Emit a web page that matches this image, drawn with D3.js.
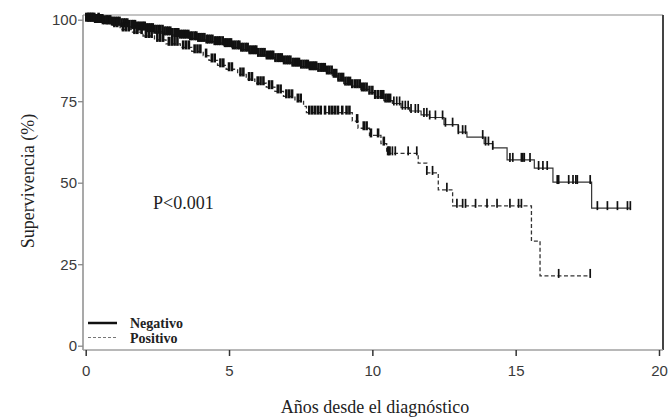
<!DOCTYPE html>
<html>
    <head>
        <title>Supervivencia</title>
        <script src="https://d3js.org/d3.v7.min.js"></script>
        <meta charset="UTF-8">
        <style>
            body { margin: 0; background: #fff; }
        </style>
    </head>
    <body>
        <script>
            var w = 668;
            var h = 419;

            // step points [year, survival %]
            var negSteps = [
                [0, 100], [0.3, 99.6], [0.6, 99.2], [0.9, 98.8], [1.2, 98.3], [1.5, 97.8],
                [1.8, 97.3], [2.1, 96.8], [2.4, 96.3], [2.7, 95.8], [3.0, 95.3], [3.3, 94.8],
                [3.6, 94.3], [3.9, 93.8], [4.2, 93.3], [4.5, 92.8], [4.8, 92.2], [5.1, 91.5],
                [5.4, 90.8], [5.7, 90.0], [6.0, 89.2], [6.3, 88.4], [6.6, 87.6], [6.9, 86.9],
                [7.2, 86.2], [7.5, 85.6], [7.8, 85.1], [8.1, 84.6], [8.4, 83.8], [8.6, 82.8],
                [8.8, 81.6], [9.0, 80.4], [9.3, 79.6], [9.6, 78.6], [9.9, 77.6], [10.1, 76.3],
                [10.4, 75.2], [10.7, 74.3], [11.0, 73.0], [11.3, 72.0], [11.7, 70.8], [12.0, 70.0],
                [12.5, 67.8], [13.0, 65.5], [13.3, 64.0], [13.9, 62.0], [14.2, 60.7], [14.7, 57.0],
                [15.65, 54.5], [16.3, 50.2], [17.65, 42.2]
            ];
            var negEnd = 19.0;
            var negCensor = [
                0.02, 0.08, 0.14, 0.2, 0.26, 0.33, 0.4, 0.46, 0.52, 0.58, 0.65, 0.72, 0.78, 0.85, 0.92, 0.98,
                1.05, 1.12, 1.18, 1.25, 1.32, 1.38, 1.45, 1.52, 1.6, 1.66, 1.72, 1.8, 1.86, 1.93, 2.0, 2.06,
                2.13, 2.2, 2.27, 2.34, 2.4, 2.47, 2.54, 2.6, 2.68, 2.75, 2.82, 2.88, 2.95, 3.02, 3.1, 3.16,
                3.23, 3.3, 3.37, 3.44, 3.5, 3.58, 3.65, 3.72, 3.8, 3.86, 3.93, 4.0, 4.07, 4.14, 4.22, 4.28,
                4.35, 4.42, 4.5, 4.57, 4.64, 4.7, 4.78, 4.86, 4.92, 5.0, 5.07, 5.14, 5.22, 5.3, 5.36, 5.43,
                5.5, 5.58, 5.65, 5.72, 5.8, 5.88, 5.95, 6.02, 6.1, 6.17, 6.24, 6.32, 6.4, 6.47, 6.54, 6.62,
                6.7, 6.77, 6.84, 6.92, 7.0, 7.07, 7.14, 7.22, 7.3, 7.37, 7.44, 7.52, 7.6, 7.68, 7.75, 7.82,
                7.9, 7.97, 8.04, 8.12, 8.2, 8.27, 8.34, 8.42, 8.5, 8.58, 8.66, 8.74, 8.82, 8.9, 8.98, 9.06,
                9.14, 9.22, 9.3, 9.4, 9.48, 9.56, 9.64, 9.72, 9.8, 9.9, 10.0, 10.1, 10.2, 10.3, 10.38, 10.46,
                10.54, 10.62, 10.75, 10.85, 10.95, 11.05, 11.15, 11.25, 11.35, 11.5, 11.6,
                11.8, 11.9, 12.0, 12.2, 12.45, 12.55, 12.8, 13.0, 13.15, 13.25, 13.85, 13.95, 14.05, 14.2,
                14.8, 14.9, 15.2, 15.25, 15.3, 15.5, 15.8, 15.95, 16.1, 16.45, 16.5, 16.85, 17.0, 17.1,
                17.15, 17.6, 17.85, 18.2, 18.55, 18.9, 19.0
            ];

            var posSteps = [
                [0, 100], [0.5, 99.2], [0.9, 98.3], [1.2, 97.0], [1.6, 96.2], [2.0, 95.0], [2.4, 93.8],
                [2.8, 92.6], [3.3, 91.5], [3.7, 90.3], [4.1, 89.0], [4.3, 87.5], [4.6, 86.0], [4.9, 84.8],
                [5.3, 83.2], [5.6, 81.8], [5.9, 80.5], [6.3, 79.3], [6.6, 78.0], [6.9, 76.5], [7.3, 75.2],
                [7.6, 73.4], [7.7, 71.5], [9.3, 68.9], [9.5, 66.7], [9.9, 64.5], [10.3, 62.0], [10.5, 59.0],
                [11.6, 56.0], [11.9, 53.0], [12.3, 47.8], [12.8, 42.9], [15.55, 32.1], [15.85, 21.4]
            ];
            var posEnd = 17.6;
            var posCensor = [
                0.1, 0.2, 0.3, 0.45, 0.6, 0.75, 0.85, 1.0, 1.1, 1.3, 1.4, 1.5, 1.7, 1.8, 1.95, 2.1, 2.2,
                2.3, 2.5, 2.6, 2.7, 2.9, 3.0, 3.1, 3.2, 3.4, 3.5, 3.6, 3.8, 3.9, 4.0, 4.2, 4.4, 4.5, 4.7,
                4.8, 5.0, 5.1, 5.4, 5.5, 5.7, 5.8, 6.0, 6.1, 6.2, 6.4, 6.5, 6.7, 6.8, 7.0, 7.1, 7.2, 7.4,
                7.5, 7.8, 7.9, 8.0, 8.1, 8.2, 8.35, 8.5, 8.6, 8.7, 8.8, 8.95, 9.1, 9.2,
                9.47, 9.7, 9.8, 9.95, 10.2, 10.4, 10.55, 10.6, 10.7, 10.8, 11.25, 11.55, 11.9, 12.1, 12.6,
                12.95, 13.15, 13.25, 13.6, 14.0, 14.35, 14.8, 15.1, 15.2, 16.5, 17.6
            ];

            var xTicks = [0, 5, 10, 15, 20];
            var yTicks = [0, 25, 50, 75, 100];
            var legendLabels = ["Negativo", "Positivo"];

            var x = d3.scaleLinear().domain([0, 20]).range([85.7, 659]);
            var y = d3.scaleLinear().domain([0, 100]).range([345.7, 19.7]);

            var svg = d3.select("body")
                    .append("svg")
                    .attr("width", w)
                    .attr("height", h);

            // frame
            svg.append("line").attr("x1", 83).attr("x2", 663).attr("y1", 15).attr("y2", 15)
                    .attr("stroke", "#b0b0b0").attr("stroke-width", 1.5);
            svg.append("line").attr("x1", 663).attr("x2", 663).attr("y1", 15).attr("y2", 350)
                    .attr("stroke", "#444").attr("stroke-width", 2);
            svg.append("line").attr("x1", 83).attr("x2", 83).attr("y1", 15).attr("y2", 350)
                    .attr("stroke", "#8c8c8c").attr("stroke-width", 1.5);
            svg.append("line").attr("x1", 83).attr("x2", 663).attr("y1", 350).attr("y2", 350)
                    .attr("stroke", "#a0a0a0").attr("stroke-width", 1.5);

            var yAxis = svg.append("g")
                    .attr("transform", "translate(83,0)")
                    .call(d3.axisLeft(y).tickValues(yTicks).tickSize(5).tickPadding(1));
            yAxis.select(".domain").remove();
            yAxis.selectAll("line").attr("stroke", "#888").attr("stroke-width", 1.3);
            yAxis.selectAll("text").attr("font-family", "Liberation Sans, Arial, sans-serif")
                    .attr("font-size", 15).attr("fill", "#3a3a3a");

            var xAxis = svg.append("g")
                    .attr("transform", "translate(0,350)")
                    .call(d3.axisBottom(x).tickValues(xTicks).tickSize(6).tickPadding(9));
            xAxis.select(".domain").remove();
            xAxis.selectAll("line").attr("stroke", "#333").attr("stroke-width", 1.5);
            xAxis.selectAll("text").attr("font-family", "Liberation Sans, Arial, sans-serif")
                    .attr("font-size", 15).attr("fill", "#3a3a3a");

            function stepPath(steps, end) {
                var pts = [];
                steps.forEach(function (d, i) {
                    if (i > 0) {
                        pts.push([d[0], steps[i - 1][1]]);
                    }
                    pts.push(d);
                });
                pts.push([end, steps[steps.length - 1][1]]);
                return d3.line()
                        .x(function (d) { return x(d[0]); })
                        .y(function (d) { return y(d[1]); })(pts);
            }

            function survAt(steps, t) {
                var s = steps[0][1];
                steps.forEach(function (d) {
                    if (d[0] <= t) {
                        s = d[1];
                    }
                });
                return s;
            }

            svg.append("path")
                    .attr("d", stepPath(negSteps, negEnd))
                    .attr("fill", "none")
                    .attr("stroke", "#333")
                    .attr("stroke-width", 1.2);

            svg.append("path")
                    .attr("d", stepPath(posSteps, posEnd))
                    .attr("fill", "none")
                    .attr("stroke", "#333")
                    .attr("stroke-width", 1.3)
                    .attr("stroke-dasharray", "4,2.5");

            // censor marks; the early ones overlap into a dark band
            function censor(cls, times, steps) {
                svg.selectAll("line." + cls)
                        .data(times)
                        .enter()
                        .append("line")
                        .attr("class", cls)
                        .attr("x1", function (d) { return x(d); })
                        .attr("x2", function (d) { return x(d); })
                        .attr("y1", function (d) { return y(survAt(steps, d)) - 7; })
                        .attr("y2", function (d) { return y(survAt(steps, d)) + 2; })
                        .attr("stroke", "#111")
                        .attr("stroke-width", function (d) { return d < 10.7 ? 2.6 : 1.7; });
            }
            censor("negc", negCensor, negSteps);
            censor("posc", posCensor, posSteps);

            // P value
            svg.append("text")
                    .attr("x", 153)
                    .attr("y", 209)
                    .attr("font-family", "Liberation Serif, Times New Roman, serif")
                    .attr("font-size", 18)
                    .attr("fill", "#222")
                    .text("P<0.001");

            // legend
            svg.append("line").attr("x1", 88).attr("x2", 117).attr("y1", 323).attr("y2", 323)
                    .attr("stroke", "#111").attr("stroke-width", 2.5);
            svg.append("line").attr("x1", 88).attr("x2", 117).attr("y1", 337.5).attr("y2", 337.5)
                    .attr("stroke", "#777").attr("stroke-width", 1).attr("stroke-dasharray", "3,2");
            svg.selectAll("text.leg")
                    .data(legendLabels)
                    .enter()
                    .append("text")
                    .attr("class", "leg")
                    .attr("x", 130)
                    .attr("y", function (d, i) { return 328.3 + i * 15; })
                    .attr("font-family", "Liberation Serif, Times New Roman, serif")
                    .attr("font-size", 14)
                    .attr("font-weight", "bold")
                    .attr("fill", "#222")
                    .text(function (d) { return d; });

            // axis titles
            svg.append("text")
                    .attr("x", 375)
                    .attr("y", 413)
                    .attr("text-anchor", "middle")
                    .attr("font-family", "Liberation Serif, Times New Roman, serif")
                    .attr("font-size", 18)
                    .attr("fill", "#222")
                    .text("Años desde el diagnóstico");

            svg.append("text")
                    .attr("transform", "translate(34,181) rotate(-90)")
                    .attr("text-anchor", "middle")
                    .attr("font-family", "Liberation Serif, Times New Roman, serif")
                    .attr("font-size", 18)
                    .attr("fill", "#222")
                    .text("Supervivencia (%)");
        </script>
    </body>
</html>
